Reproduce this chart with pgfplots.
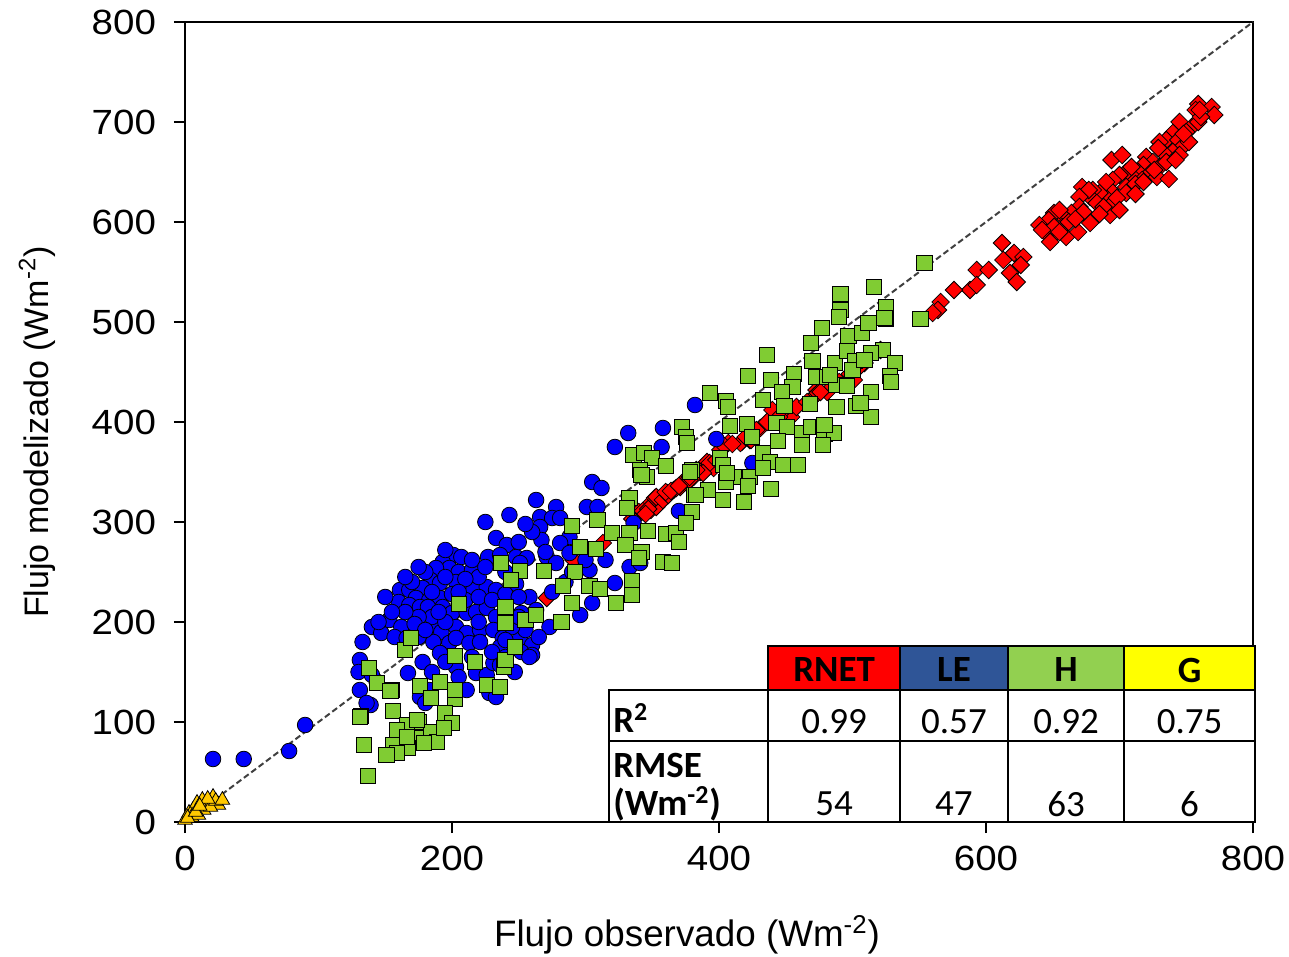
\documentclass[border=0pt]{standalone}
\usepackage{pgfplots}
\pgfplotsset{compat=1.18}
\usepackage{fontspec}
\setmainfont{Liberation Sans}
\newfontfamily\tickfont[FakeStretch=1.1]{Liberation Sans}
\newfontfamily\calibri{Carlito}

\definecolor{leblue}{RGB}{0,0,250}
\definecolor{hgreen}{RGB}{128,204,51}
\definecolor{rnred}{RGB}{255,0,0}
\definecolor{ggold}{RGB}{255,200,0}
\definecolor{hdrblue}{RGB}{47,85,151}
\definecolor{hdrgreen}{RGB}{146,208,80}
\definecolor{hdryellow}{RGB}{255,255,0}

\begin{document}
\begin{tikzpicture}
\begin{axis}[
    at={(0,0)}, anchor=south west,
    width=534pt, height=400pt, scale only axis,
    xmin=0, xmax=800, ymin=0, ymax=800,
    xtick={0,200,...,800}, ytick={0,100,...,800},
    xtick pos=bottom, ytick pos=left,
    tick align=outside, major tick length=5.5pt,
    axis line style={line width=0.8pt},
    tick style={line width=0.8pt, black},
    clip=false,
    tick label style={font=\tickfont\fontsize{17.5}{20}\selectfont},
    /pgf/number format/assume math mode=true,
    yticklabel style={xshift=-5.5pt},
    xticklabel style={yshift=-3pt},
    xlabel={Flujo observado (Wm\textsuperscript{-2})},
    ylabel={Flujo modelizado (Wm\textsuperscript{-2})},
    xlabel style={font=\fontsize{18.4}{22}\selectfont, at={(axis description cs:0.47,-0.141)}, anchor=center},
    ylabel style={font=\fontsize{17}{20}\selectfont, at={(axis description cs:-0.1386,0.4875)}, anchor=center},
]
% 1:1 line
\addplot[black!75, line width=1pt, dash pattern=on 3pt off 1.6pt] coordinates {(0,0) (800,800)};

% RNET
\addplot[only marks, mark=square*, mark size=3.1pt,
  mark options={draw=black, fill=rnred, line width=0.4pt, rotate=45}] table {
x y
759 718
769 715
771 707
757 712
745 700
754 695
759 700
740 689
735 682
730 680
744 682
747 675
740 670
745 667
733 669
729 674
720 665
725 660
718 657
730 655
714 650
723 649
710 645
728 645
717 642
705 650
737 643
694 662
702 667
700 647
695 642
705 635
693 632
690 624
685 629
680 632
678 625
683 619
672 635
677 632
670 625
705 629
695 619
693 607
678 599
670 615
664 609
673 610
658 605
651 609
647 602
640 597
645 589
653 590
660 585
669 590
657 595
651 595
648 580
662 600
667 603
655 612
688 615
698 624
712 638
726 652
735 660
750 690
761 705
752 680
742 662
655 590
642 592
685 608
700 612
712 628
718 640
690 640
709 655
748 688
760 712
612 579
613 562
621 569
628 565
626 557
618 549
623 540
593 552
602 552
588 532
576 532
593 537
566 520
564 512
560 509
509 459
521 472
501 442
483 445
473 432
481 430
471 425
454 405
447 410
440 412
431 394
423 382
417 380
407 379
401 372
391 360
396 354
386 350
381 345
376 339
371 335
366 332
361 329
356 324
351 319
346 315
341 309
349 312
353 315
373 340
338 305
474 429
393 359
388 349
378 342
352 324
424 382
416 379
313 279
291 262
271 224
198 180
340 310
353 325
343 311
347 313
358 322
362 327
368 334
335 303
345 308
360 330
364 331
370 336
378 345
383 352
398 362
404 376
410 378
420 385
428 392
436 400
445 405
458 415
466 420
476 430
490 440
498 448
505 455
};

% LE
\addplot[only marks, mark=*, mark size=3.9pt,
  mark options={draw=black, fill=leblue, line width=0.4pt}] table {
x y
21 63
44 63
78 71
90 97
382 417
332 389
358 394
322 375
357 375
398 383
425 359
305 340
312 334
263 322
278 315
301 315
309 315
266 305
275 304
281 304
225 300
243 307
266 295
288 285
336 299
370 311
233 284
241 277
267 282
281 279
288 269
227 265
236 267
248 265
256 264
251 259
271 265
278 259
201 267
207 265
193 260
198 254
188 254
205 250
215 252
303 252
322 239
333 255
341 259
184 242
191 239
203 240
211 235
216 232
226 235
233 232
161 232
168 232
178 234
160 220
173 224
183 222
191 224
168 217
176 215
182 215
193 215
200 209
211 209
218 210
226 214
233 205
243 202
252 209
258 225
263 212
305 219
296 207
273 195
140 195
147 189
153 202
162 195
133 180
157 185
166 184
175 185
186 194
192 190
203 195
211 189
221 192
231 192
238 184
251 184
260 177
255 192
186 180
198 179
203 184
213 179
221 180
236 175
252 170
260 167
131 162
130 150
140 147
131 132
139 117
167 149
178 160
191 169
203 155
205 145
211 132
218 149
226 147
231 159
236 157
247 150
228 129
233 125
176 125
180 119
183 132
136 119
258 165
245 195
240 182
250 205
285 240
290 250
275 230
300 262
315 262
248 238
240 250
220 245
185 205
175 205
195 200
170 240
180 250
195 245
210 243
185 230
200 228
210 222
165 210
155 210
145 200
172 198
180 192
205 230
220 225
230 222
240 228
250 225
215 262
225 255
195 272
175 255
165 245
150 225
190 210
205 218
220 200
230 170
215 165
195 160
185 150
240 165
265 185
270 270
260 290
250 280
255 298
};

% H
\addplot[only marks, mark=square*, mark size=3.8pt,
  mark options={draw=black, fill=hgreen, line width=0.5pt}] table {
x y
137 46
134 77
132 106
138 154
144 139
155 132
156 111
165 172
169 184
205 218
202 166
217 160
176 136
191 140
184 124
202 123
195 109
200 99
175 100
166 97
159 92
174 84
184 90
189 80
167 74
156 77
159 69
151 67
179 79
226 137
236 135
239 155
240 162
247 175
240 199
240 215
255 202
237 259
251 251
244 242
154 131
202 132
131 105
174 102
166 85
194 94
372 395
375 385
376 379
336 367
344 369
350 364
360 356
341 352
346 345
342 347
380 352
381 327
333 324
331 314
309 302
290 296
320 289
333 289
347 291
360 288
368 289
370 280
380 310
375 299
296 275
308 273
330 277
342 270
340 264
358 260
365 259
269 251
292 250
283 236
303 236
311 233
335 241
335 227
323 219
290 219
263 207
282 200
516 535
491 528
491 512
490 505
525 515
525 503
477 494
469 479
497 486
507 489
512 499
436 467
470 461
487 459
496 471
502 461
523 472
532 459
422 446
439 442
456 448
455 435
447 430
473 445
481 445
488 437
496 436
514 430
528 446
529 440
393 429
405 421
407 415
433 422
449 416
468 418
488 415
503 416
514 405
408 396
421 398
425 385
443 399
451 395
462 389
469 395
478 395
479 388
486 389
444 381
433 369
438 360
462 377
478 377
401 364
403 357
448 357
459 357
378 350
411 345
423 345
433 354
439 333
422 336
405 340
406 349
392 332
383 327
403 322
419 320
551 503
554 559
500 452
483 447
506 419
479 397
514 469
509 462
524 504
};

% G
\addplot[only marks, mark=triangle*, mark size=4.2pt,
  mark options={draw=black, fill=ggold, line width=0.4pt}] table {
x y
0 2
3 9
6 12
9 19
13 22
16 20
21 25
25 17
14 12
5 5
10 7
19 15
23 21
2 4
8 10
17 23
11 16
28 22
};

% statistics table
\fill[white] (axis cs:317.6,0) rectangle (axis cs:801.5,132);
\draw[line width=0.9pt, fill=rnred] (axis cs:436.7,132) rectangle (axis cs:535.6,176);
\draw[line width=0.9pt, fill=hdrblue] (axis cs:535.6,132) rectangle (axis cs:616.5,176);
\draw[line width=0.9pt, fill=hdrgreen] (axis cs:616.5,132) rectangle (axis cs:703.4,176);
\draw[line width=0.9pt, fill=hdryellow] (axis cs:703.4,132) rectangle (axis cs:801.5,176);
\draw[line width=0.9pt] (axis cs:317.6,0) rectangle (axis cs:801.5,132);
\draw[line width=0.9pt] (axis cs:317.6,81) -- (axis cs:801.5,81);
\draw[line width=0.9pt] (axis cs:436.7,0) -- (axis cs:436.7,132);
\draw[line width=0.9pt] (axis cs:535.6,0) -- (axis cs:535.6,132);
\draw[line width=0.9pt] (axis cs:616.5,0) -- (axis cs:616.5,132);
\draw[line width=0.9pt] (axis cs:703.4,0) -- (axis cs:703.4,132);

\begin{scope}[every node/.style={font=\calibri\fontsize{18.5}{22}\selectfont, inner sep=0pt}]
\node[font=\calibri\bfseries\fontsize{18.5}{22}\selectfont] at (axis cs:486.2,152) {RNET};
\node[font=\calibri\bfseries\fontsize{18.5}{22}\selectfont] at (axis cs:576,152) {LE};
\node[font=\calibri\bfseries\fontsize{18.5}{22}\selectfont] at (axis cs:660,152) {H};
\node[font=\calibri\bfseries\fontsize{18.5}{22}\selectfont] at (axis cs:752.5,152) {G};
\node[anchor=west, font=\calibri\bfseries\fontsize{18.5}{22}\selectfont] at (axis cs:320.5,104) {R\textsuperscript{2}};
\node[anchor=west, font=\calibri\bfseries\fontsize{18.5}{22}\selectfont] at (axis cs:320.5,57) {RMSE};
\node[anchor=west, font=\calibri\bfseries\fontsize{18.5}{22}\selectfont] at (axis cs:320.5,18) {(Wm\textsuperscript{-2})};
\node at (axis cs:486.2,100) {0.99};
\node at (axis cs:576,100) {0.57};
\node at (axis cs:660,100) {0.92};
\node at (axis cs:752.5,100) {0.75};
\node at (axis cs:486.2,18) {54};
\node at (axis cs:576,18) {47};
\node at (axis cs:660,18) {63};
\node at (axis cs:752.5,18) {6};
\end{scope}
\end{axis}
\pgfresetboundingbox
\path[use as bounding box] (-92.5pt,-67.5pt) rectangle (552pt,411pt);
\end{tikzpicture}
\end{document}
